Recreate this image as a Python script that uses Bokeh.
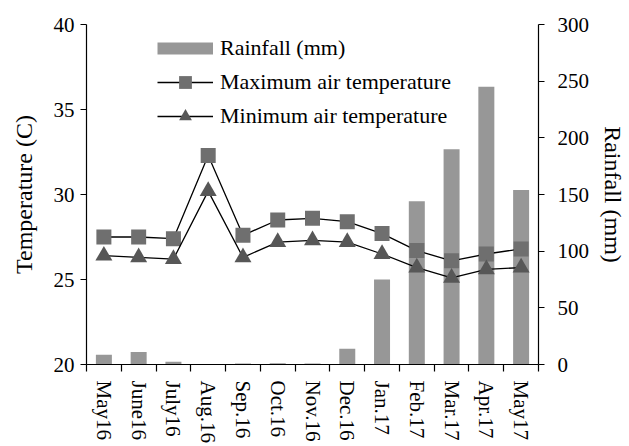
from bokeh.plotting import figure
from bokeh.models import Range1d, LinearAxis, FixedTicker, SingleIntervalTicker, Legend, LegendItem
from bokeh.embed import file_html
from bokeh.resources import INLINE

months = ["May16", "June16", "July16", "Aug.16", "Sep.16", "Oct.16", "Nov.16",
          "Dec.16", "Jan.17", "Feb.17", "Mar.17", "Apr.17", "May17"]
rainfall = [8.5, 11, 2.4, 0, 0.8, 1.2, 0.8, 14, 75, 144, 190, 245, 154]
tmax = [27.5, 27.5, 27.4, 32.3, 27.6, 28.5, 28.6, 28.4, 27.7, 26.7, 26.1, 26.5, 26.8]
tmin = [26.4, 26.3, 26.2, 30.2, 26.3, 27.2, 27.3, 27.2, 26.5, 25.7, 25.1, 25.6, 25.7]

FONT = "Liberation Serif"
BAR = "#979797"
SQ = "#6f6f6f"
TRI = "#575757"

xs = [i + 0.5 for i in range(len(months))]

p = figure(width=629, height=446, output_backend="svg", toolbar_location=None,
           x_range=Range1d(0, len(months)), y_range=Range1d(20, 40),
           min_border_left=86, min_border_right=87, min_border_top=24, min_border_bottom=82)
p.outline_line_color = None
p.xgrid.visible = False
p.ygrid.visible = False
p.extra_y_ranges = {"rain": Range1d(0, 300)}

bars = p.vbar(x=xs, top=rainfall, width=0.46, bottom=0, y_range_name="rain",
              fill_color=BAR, line_color=None)

lmax = p.line(xs, tmax, line_color="black", line_width=1.3)
smax = p.scatter(xs, tmax, marker="square", size=15, fill_color=SQ, line_color=None)
lmin = p.line(xs, tmin, line_color="black", line_width=1.3)
smin = p.scatter(xs, tmin, marker="triangle", size=17, fill_color=TRI, line_color=None)

# legend swatch for rainfall (legend only, no visible data)
rswatch = p.line([float("nan")], [float("nan")], line_color=BAR, line_width=12,
                 line_cap="butt")

# bottom axis: labels at category centres, tick marks at category boundaries
xa = p.xaxis[0]
xa.ticker = FixedTicker(ticks=xs, minor_ticks=list(range(len(months) + 1)))
xa.major_label_overrides = {x: m for x, m in zip(xs, months)}
xa.major_tick_out = 0
xa.major_tick_in = 0
xa.minor_tick_out = 7
xa.minor_tick_in = 0
xa.minor_tick_line_color = "black"
xa.major_label_orientation = "vertical"
xa.major_label_standoff = 9

# left axis
ya = p.yaxis[0]
ya.ticker = SingleIntervalTicker(interval=5)
ya.axis_label = "Temperature (C)"
ya.axis_label_standoff = 14

# right axis
ra = LinearAxis(y_range_name="rain", ticker=SingleIntervalTicker(interval=50),
                axis_label="Rainfall (mm)")
ra.axis_label_standoff = 8
p.add_layout(ra, "right")

for ax in [xa, ya, ra]:
    ax.axis_line_color = "black"
    ax.axis_line_width = 1.2
    ax.major_tick_line_color = "black"
    ax.major_tick_line_width = 1.2
    ax.minor_tick_line_width = 1.2
    ax.major_label_text_font = FONT
    ax.major_label_text_font_size = "21px"
    ax.major_label_text_color = "black"
    ax.axis_label_text_font = FONT
    ax.axis_label_text_font_size = "24px"
    ax.axis_label_text_font_style = "normal"
    ax.axis_label_text_color = "black"
for ax in [ya, ra]:
    ax.major_tick_out = 6
    ax.major_tick_in = 0
    ax.minor_tick_out = 0
    ax.minor_tick_in = 0
ya.major_label_standoff = 6
ra.major_label_standoff = 13

legend = Legend(items=[
    LegendItem(label="Rainfall (mm)", renderers=[rswatch]),
    LegendItem(label="Maximum air temperature", renderers=[lmax, smax]),
    LegendItem(label="Minimum air temperature", renderers=[lmin, smin]),
], location=(71, 232))
legend.glyph_width = 56
legend.glyph_height = 32
legend.label_standoff = 7
legend.spacing = 2
legend.padding = 0
legend.margin = 0
legend.border_line_color = None
legend.background_fill_alpha = 0
legend.label_text_font = FONT
legend.label_text_font_size = "22px"
legend.label_text_color = "black"
p.add_layout(legend)

open("out.html", "w").write(file_html(p, INLINE))
